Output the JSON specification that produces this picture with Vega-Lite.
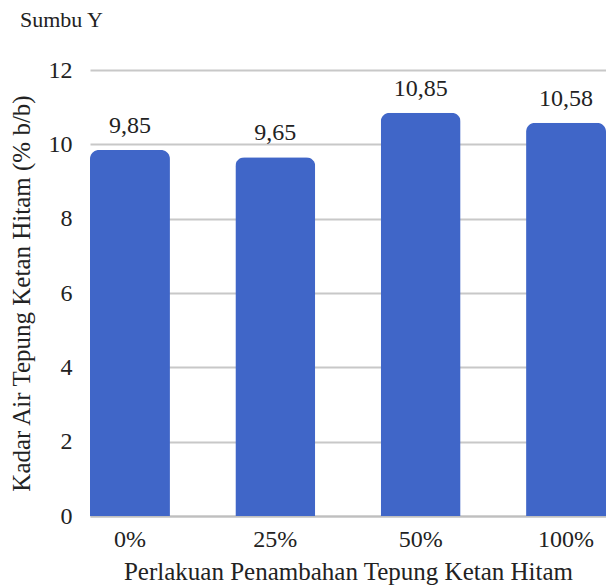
{
  "$schema": "https://vega.github.io/schema/vega-lite/v6.json",
  "width": 516,
  "height": 446,
  "autosize": {"type": "none"},
  "padding": {"left": 90, "top": 70, "right": 0, "bottom": 70},
  "background": "white",
  "title": {
    "text": "Sumbu Y",
    "anchor": "start",
    "frame": "group",
    "dx": -70,
    "offset": 9,
    "baseline": "alphabetic",
    "font": "'Liberation Serif', 'Times New Roman', serif",
    "fontSize": 22,
    "fontWeight": "normal",
    "color": "#222222"
  },
  "config": {
    "locale": {"number": {"decimal": ",", "thousands": ".", "grouping": [3], "currency": ["", ""]}},
    "view": {"stroke": null},
    "font": "'Liberation Serif', 'Times New Roman', serif"
  },
  "data": {
    "values": [
      {"perlakuan": "0%", "kadar": 9.85},
      {"perlakuan": "25%", "kadar": 9.65},
      {"perlakuan": "50%", "kadar": 10.85},
      {"perlakuan": "100%", "kadar": 10.58}
    ]
  },
  "encoding": {
    "x": {
      "field": "perlakuan",
      "type": "nominal",
      "sort": null,
      "scale": {"paddingInner": 0.45, "paddingOuter": 0},
      "axis": {
        "title": "Perlakuan Penambahan Tepung Ketan Hitam",
        "titleFont": "'Liberation Serif', 'Times New Roman', serif",
        "titleFontSize": 25,
        "titleFontWeight": "normal",
        "titleColor": "#222222",
        "titlePadding": 8,
        "labelFont": "'Liberation Serif', 'Times New Roman', serif",
        "labelFontSize": 24,
        "labelColor": "#222222",
        "labelAngle": 0,
        "labelPadding": 11,
        "ticks": false,
        "domainColor": "#bfbfbf",
        "domainWidth": 2,
        "grid": false
      }
    },
    "y": {
      "field": "kadar",
      "type": "quantitative",
      "scale": {"domain": [0, 12], "nice": false},
      "axis": {
        "title": "Kadar Air Tepung Ketan Hitam (% b/b)",
        "titleFont": "'Liberation Serif', 'Times New Roman', serif",
        "titleFontSize": 25,
        "titleFontWeight": "normal",
        "titleColor": "#222222",
        "titlePadding": 14,
        "labelFont": "'Liberation Serif', 'Times New Roman', serif",
        "labelFontSize": 24,
        "labelColor": "#222222",
        "labelPadding": 18,
        "values": [0, 2, 4, 6, 8, 10, 12],
        "ticks": false,
        "domain": false,
        "grid": true,
        "gridColor": "#c8c8c8",
        "gridWidth": 2
      }
    }
  },
  "layer": [
    {
      "mark": {"type": "bar", "color": "#4066c8", "cornerRadiusTopLeft": 9, "cornerRadiusTopRight": 9}
    },
    {
      "mark": {"type": "text", "baseline": "alphabetic", "dy": -17, "fontSize": 24, "font": "'Liberation Serif', 'Times New Roman', serif", "color": "#222222"},
      "encoding": {"text": {"field": "kadar", "type": "quantitative", "format": ".2f"}}
    }
  ]
}
